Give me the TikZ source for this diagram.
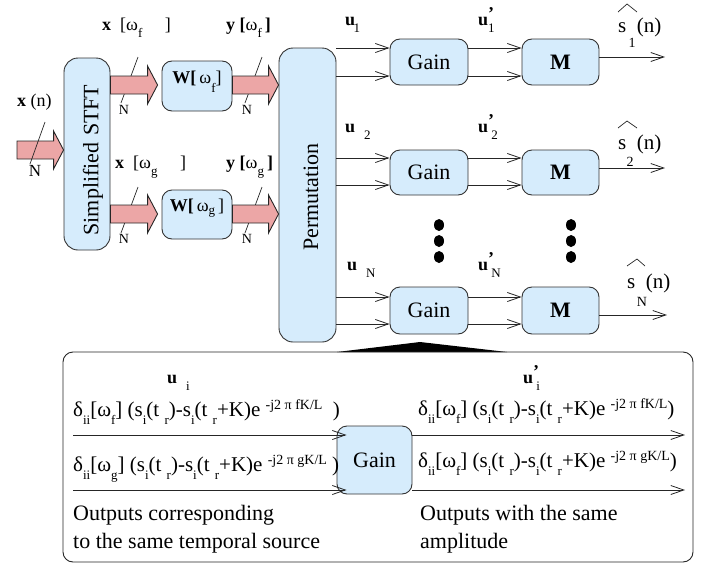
\documentclass[tikz,border=0pt]{standalone}
\usepackage{fontspec}
\setmainfont{Liberation Serif}
\usetikzlibrary{arrows.meta,calc}
\definecolor{boxblue}{RGB}{214,236,252}
\definecolor{fatpink}{RGB}{236,166,166}
\newcommand\fs[1]{\fontsize{#1}{#1}\selectfont}
\newcommand\lo[2][0.4em]{\raisebox{-#1}{\fs{13}#2}}
\newcommand\dsub[1]{\raisebox{-8pt}{\fs{13}#1}}
\newcommand\dsup[1]{\raisebox{7pt}{\fs{14}#1}}
\newcommand\prsub[2]{\rlap{\raisebox{0.3em}{\textbf{’}}}\lo{#2}}
\newcommand\fatarrow[2]{\draw[fat] let \p1=#1, \p2=#2 in
  (\x1,\y2+9pt) -- (\x2-10pt,\y2+9pt) -- (\x2-10pt,\y2+19pt) -- (\x2,\y2)
  -- (\x2-10pt,\y2-19pt) -- (\x2-10pt,\y2-9pt) -- (\x1,\y2-9pt) -- cycle;}
\begin{document}
\begin{tikzpicture}[x=1pt,y=-1pt,
  blk/.style={draw=black!80, fill=boxblue, rounded corners=10pt, line width=0.9pt, inner sep=0pt, font=\fs{22}},
  arr/.style={draw=black!85, line width=0.8pt, -{Straight Barb[length=13pt,width=9pt,line width=0.8pt]}},
  fat/.style={draw=black!85, fill=fatpink, line width=0.9pt},
  lab/.style={inner sep=0pt, font=\fs{18}},
  nn/.style={inner sep=0pt, font=\fs{14}},
  txt/.style={inner sep=0pt, font=\fs{22}, anchor=base west},
  frm/.style={inner sep=0pt, font=\fs{21}, anchor=base west},
  sl/.style={draw=black!85, line width=0.7pt},
]
\useasboundingbox (0,0) rectangle (705,565);

% ---------- main blocks ----------
\node[blk, minimum width=46, minimum height=192, rounded corners=14pt] (stft) at (87,154) {};
\node[font=\fs{22}, rotate=90, inner sep=0pt] (stfttxt) at (93,160) {Simplified\hspace{0.3em}STFT};
\node[blk, minimum width=70, minimum height=50] (w1) at (197,86) {};
\node[lab, anchor=base] (w1t) at (197,83) {\textbf{W[}\,ω\lo[0.5em]{f}]};
\node[blk, minimum width=70, minimum height=49] (w2) at (197,214.5) {};
\node[lab, anchor=base] (w2t) at (197,211) {\textbf{W[}\,ω\lo[0.2em]{g}\,]};
\node[blk, minimum width=57, minimum height=294, rounded corners=14pt] (perm) at (307.5,195) {};
\node[font=\fs{22}, rotate=90, inner sep=0pt] (permtxt) at (311,197) {Permutation};

\node[blk, minimum width=78, minimum height=46] (g1) at (429,62) {Gain};
\node[blk, minimum width=77, minimum height=46] (m1) at (560.5,62) {\textbf{M}};
\node[blk, minimum width=78, minimum height=45] (g2) at (429,172.5) {Gain};
\node[blk, minimum width=77, minimum height=45] (m2) at (560.5,172.5) {\textbf{M}};
\node[blk, minimum width=78, minimum height=47] (g3) at (429,310.5) {Gain};
\node[blk, minimum width=77, minimum height=47] (m3) at (560.5,310.5) {\textbf{M}};

% ---------- slashes behind fat arrows ----------
\draw[sl] (138,57) -- (121,103);  \node[nn] (n1) at (124,110) {N};
\draw[sl] (262,57) -- (245,103);  \node[nn] (n2) at (247,110) {N};
\draw[sl] (138,187) -- (121,233); \node[nn] (n3) at (124,239) {N};
\draw[sl] (262,187) -- (245,233); \node[nn] (n4) at (247,239) {N};

% ---------- fat arrows ----------
\coordinate (in0) at (17,150);
\coordinate (ya) at (0,85);
\coordinate (yb) at (0,214);
\coordinate (a1s) at (stft.east |- ya);
\coordinate (a1e) at ($(w1.west |- ya)+(-4,0)$);
\coordinate (a2s) at (w1.east |- ya);
\coordinate (a2e) at (perm.west |- ya);
\coordinate (b1s) at (stft.east |- yb);
\coordinate (b1e) at ($(w2.west |- yb)+(-4,0)$);
\coordinate (b2s) at (w2.east |- yb);
\coordinate (b2e) at (perm.west |- yb);
\coordinate (ine) at (stft.west |- in0);
\fatarrow{(in0)}{(ine)}
\fatarrow{(a1s)}{(a1e)}
\fatarrow{(a2s)}{(a2e)}
\fatarrow{(b1s)}{(b1e)}
\fatarrow{(b2s)}{(b2e)}
\draw[sl] (45,122) -- (30,164); \node[nn, font=\fs{17}] (n0) at (35,171) {N};

% ---------- left labels ----------
\node[lab, anchor=base west] (xn) at (17,106) {\textbf{x}\ (n)};
\node[lab, anchor=base west] (xf) at (102,30) {\textbf{x}\ \ [ω\lo{f}\quad\ ]};
\node[lab, anchor=base west] (yf) at (226,30) {\textbf{y [}ω\lo{f}\,\textbf{]}};
\node[lab, anchor=base west] (xg) at (115,168) {\textbf{x}\ \ [ω\lo{g}\quad\ ]};
\node[lab, anchor=base west] (yg) at (226,168) {\textbf{y [}ω\lo{g}\,\textbf{]}};

% ---------- permutation -> gain -> M ----------
\coordinate (y11) at (0,48);  \coordinate (y12) at (0,76);
\coordinate (y21) at (0,158); \coordinate (y22) at (0,185);
\coordinate (y31) at (0,297); \coordinate (y32) at (0,324);
\foreach \yy/\g/\m in {y11/g1/m1, y12/g1/m1, y21/g2/m2, y22/g2/m2, y31/g3/m3, y32/g3/m3}{
  \draw[arr] (perm.east |- \yy) -- (\g.west |- \yy);
  \draw[arr] (\g.east |- \yy) -- (\m.west |- \yy);
}
\coordinate (o1) at (665,57);
\coordinate (o2) at (665,168);
\coordinate (o3) at (667,315);
\draw[arr] (m1.east |- o1) -- (o1);
\draw[arr] (m2.east |- o2) -- (o2);
\draw[arr] (m3.east |- o3) -- (o3);

% ---------- u labels ----------
\node[lab, anchor=base west] (u1) at (345,25) {\textbf{u}\kern-1.5pt\lo{1}};
\node[lab, anchor=base west] (u1p) at (478,25) {\textbf{u}\prsub{’}{1}};
\node[lab, anchor=base west] (u2) at (345,132) {\textbf{u}\ \ \lo{2}};
\node[lab, anchor=base west] (u2p) at (478,132) {\textbf{u}\prsub{’}{\ 2}};
\node[lab, anchor=base west] (uN) at (347,270) {\textbf{u}\ \ \lo{N}};
\node[lab, anchor=base west] (uNp) at (478,270) {\textbf{u}\prsub{’}{\ N}};

% ---------- s-hat labels ----------
\node[inner sep=0pt, font=\fs{21}, anchor=base west] (s1) at (618,32) {s\ \ (n)};
\node[nn] (s1i) at (632,43) {1};
\draw[sl] (618,12) -- (627,4) -- (637,12);
\node[inner sep=0pt, font=\fs{21}, anchor=base west] (s2) at (618,149) {s\ \ (n)};
\node[nn] (s2i) at (630,162) {2};
\draw[sl] (618,128) -- (627,121) -- (637,128);
\node[inner sep=0pt, font=\fs{21}, anchor=base west] (sN) at (627,288) {s\ \ (n)};
\node[nn] (sNi) at (642,302) {N};
\draw[sl] (627,266) -- (637,259) -- (645,266);

% ---------- dots ----------
\foreach \xx in {439,571}{
  \foreach \yy in {225,241,257}{
    \fill (\xx,\yy) ellipse (5 and 6);
  }
}

% ---------- detail box ----------
\fill (337,352) -- (420,342) -- (507,352) -- cycle;
\node[draw=black!85, line width=0.9pt, rounded corners=10pt, minimum width=630, minimum height=210, inner sep=0pt] (detail) at (378,457) {};
\node[blk, minimum width=75, minimum height=68] (gi) at (374.5,460) {Gain};

\node[lab, anchor=base west] (ui) at (167,383) {\textbf{u}\ \ \lo{i}};
\node[lab, anchor=base west] (uip) at (523,383) {\textbf{u}\prsub{’}{\ i}};

\node[frm] (f1) at (73,416) {δ\dsub{ii}[ω\dsub{f}]\ (s\dsub{i}(t\ \dsub{r})-s\dsub{i}(t\ \dsub{r}+K)e\ \dsup{-j2 π fK/L}\ \ )};
\node[frm] (f2) at (73,471) {δ\dsub{ii}[ω\dsub{g}]\ (s\dsub{i}(t\ \dsub{r})-s\dsub{i}(t\ \dsub{r}+K)e\ \dsup{-j2 π gK/L}\ )};
\node[frm] (f3) at (418,415) {δ\dsub{ii}[ω\dsub{f}]\ (s\dsub{i}(t\ \dsub{r})-s\dsub{i}(t\ \dsub{r}+K)e\ \dsup{-j2 π fK/L})};
\node[frm] (f4) at (418,467) {δ\dsub{ii}[ω\dsub{f}]\ (s\dsub{i}(t\ \dsub{r})-s\dsub{i}(t\ \dsub{r}+K)e\ \dsup{-j2\ π gK/L})};

\coordinate (l1) at (73,435);
\coordinate (l2) at (73,490);
\coordinate (r1) at (685,435);
\coordinate (r2) at (685,490);
\draw[arr] (l1) -- ($(gi.west |- l1)+(10,0)$);
\draw[arr] (l2) -- ($(gi.west |- l2)+(10,0)$);
\draw[arr] (gi.east |- r1) -- (r1);
\draw[arr] (gi.east |- r2) -- (r2);

\node[txt] (t1) at (73,520) {Outputs corresponding};
\node[txt] (t2) at (73,548) {to the same temporal source};
\node[txt] (t3) at (420,520) {Outputs with the same};
\node[txt] (t4) at (420,548) {amplitude};
\end{tikzpicture}
\end{document}
